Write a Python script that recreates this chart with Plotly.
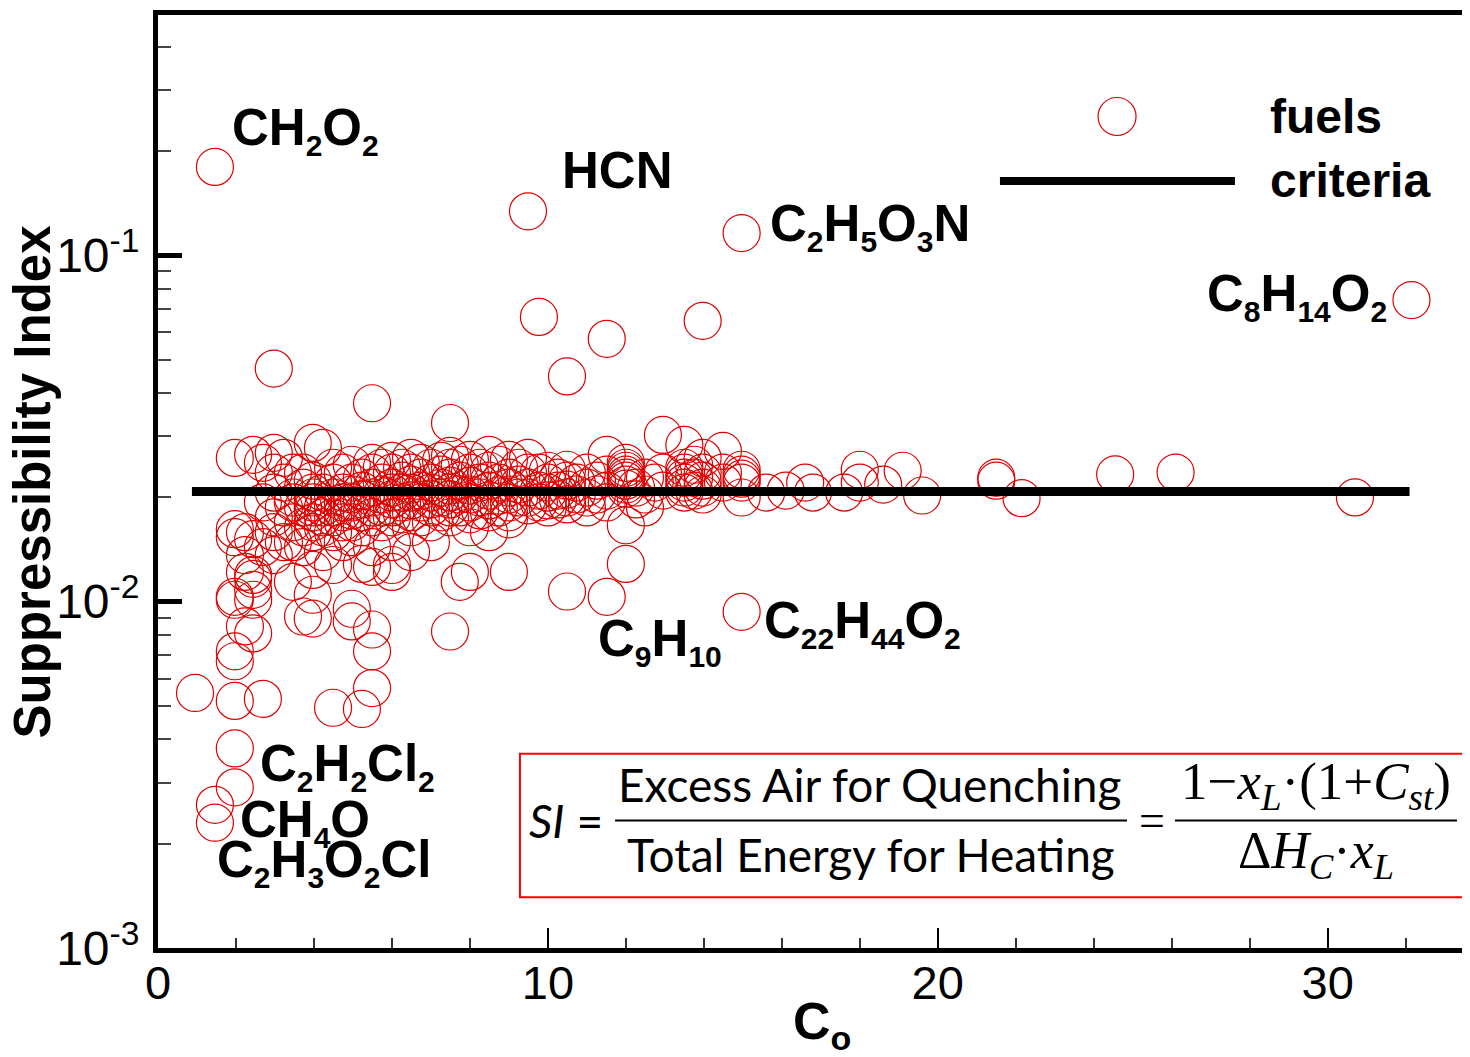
import math
import plotly.graph_objects as go

# ---------------- data ----------------
co_levels = [0.95, 1.46, 1.97, 2.23, 2.44, 2.69, 2.97, 3.23, 3.46, 3.72, 3.97, 4.23, 4.49, 4.74,
             4.97, 5.23, 5.49, 5.74, 6.0, 6.26, 6.49, 6.74, 7.0, 7.26, 7.49, 7.74, 8.0, 8.26,
             8.49, 8.74, 9.0, 9.26, 9.49, 9.77, 10.0, 10.26, 10.49, 10.74, 11.0, 11.26, 11.51,
             12.0, 12.26, 12.49, 12.74, 12.95, 13.5, 13.75, 13.97, 14.49, 14.97, 15.6, 16.1,
             16.6, 16.8, 17.6, 18.0, 18.6, 19.1, 19.6, 21.5, 22.15, 24.55, 26.1, 30.7, 32.15]

si_by_level = [
    [0.00545],
    [0.180, 0.00259, 0.00230],
    [0.0260, 0.01535, 0.01619, 0.01033, 0.01013, 0.00673, 0.00719, 0.00517, 0.00377, 0.00291],
    [0.00848, 0.01219, 0.01363, 0.01587],
    [0.02655, 0.01515, 0.01164, 0.01082, 0.00810, 0.01013, 0.01195],
    [0.00524, 0.02518, 0.01934, 0.01437],
    [0.0471, 0.0269, 0.02357, 0.02066, 0.01752, 0.01363, 0.01587],
    [0.02603, 0.02207, 0.01871, 0.01485],
    [0.01141, 0.02357, 0.01999, 0.01695, 0.01485, 0.01934],
    [0.00906, 0.02357, 0.02136, 0.01871, 0.01640, 0.01437],
    [0.02873, 0.01047, 0.00894, 0.01235, 0.02236, 0.02066, 0.01934, 0.01811, 0.01695, 0.01587, 0.01871, 0.01999],
    [0.02780, 0.02066, 0.01871, 0.01752, 0.01640, 0.01391],
    [0.00494, 0.02436, 0.02207, 0.01999, 0.01871, 0.01752, 0.01587, 0.01276],
    [0.02357, 0.02066, 0.01934, 0.01811, 0.01695, 0.01485],
    [0.00954, 0.00877, 0.02485, 0.02207, 0.02039, 0.01934, 0.01835, 0.01695, 0.01535],
    [0.00490, 0.02281, 0.02093, 0.01973, 0.01811, 0.01640, 0.01285],
    [0.0374, 0.00831, 0.00719, 0.00563, 0.02518, 0.02357, 0.02136, 0.01999, 0.01871, 0.01752, 0.01437, 0.01260],
    [0.02436, 0.02207, 0.02039, 0.01871, 0.01695],
    [0.02551, 0.02357, 0.02136, 0.02066, 0.01973, 0.01871, 0.01752, 0.01485, 0.01276, 0.01219],
    [0.02436, 0.02236, 0.02066, 0.01934, 0.01787],
    [0.02603, 0.02357, 0.02178, 0.02066, 0.01960, 0.01811, 0.01640, 0.01391],
    [0.02518, 0.02281, 0.02093, 0.01934, 0.01752],
    [0.02436, 0.02207, 0.02066, 0.01973, 0.01871, 0.01695, 0.01485],
    [0.02551, 0.02326, 0.02136, 0.01999, 0.01811],
    [0.0328, 0.02637, 0.02436, 0.02281, 0.02164, 0.02066, 0.01973, 0.01871, 0.01752, 0.00820],
    [0.02485, 0.02236, 0.02039, 0.01871, 0.01141],
    [0.02568, 0.02357, 0.02164, 0.02039, 0.01934, 0.01787, 0.01219, 0.01640],
    [0.02436, 0.02207, 0.01999, 0.01835],
    [0.02655, 0.02388, 0.02236, 0.02093, 0.01960, 0.01811, 0.01587],
    [0.02485, 0.02207, 0.02026, 0.01871],
    [0.02568, 0.02281, 0.02136, 0.02039, 0.01934, 0.01811, 0.01729, 0.01219],
    [0.02436, 0.02178, 0.01999],
    [0.134, 0.02603, 0.02357, 0.02136, 0.01999, 0.01896],
    [0.0664, 0.02357, 0.02093, 0.01934],
    [0.02388, 0.02207, 0.02066, 0.01960, 0.01871],
    [0.02281, 0.02093, 0.01973],
    [0.0447, 0.02404, 0.02236, 0.02107, 0.01999, 0.01909, 0.0107],
    [0.02207, 0.02039],
    [0.02357, 0.02136, 0.01999, 0.01871],
    [0.02236, 0.02039],
    [0.0574, 0.02655, 0.02326, 0.02093, 0.01934, 0.01033],
    [0.02518, 0.02436, 0.02388, 0.02326, 0.02281, 0.02236, 0.02178, 0.02121, 0.01662, 0.01285],
    [0.02136, 0.01973],
    [0.02281, 0.02039, 0.01871],
    [0.02207],
    [0.0303, 0.02357, 0.02093],
    [0.02835, 0.02436, 0.02357, 0.02281, 0.02207, 0.02136, 0.02066],
    [0.02485, 0.02281, 0.02093],
    [0.0647, 0.02603, 0.02357, 0.02236, 0.02136, 0.02039],
    [0.02725, 0.02357, 0.02207],
    [0.116, 0.02404, 0.02326, 0.02266, 0.02207, 0.01999, 0.00935],
    [0.02066],
    [0.02093],
    [0.02207],
    [0.02066],
    [0.02066],
    [0.02404, 0.02207],
    [0.02178],
    [0.02388],
    [0.02026],
    [0.02281, 0.02236],
    [0.0199],
    [0.0233],
    [0.0236],
    [0.0200],
    [0.0743],
]

criteria_co = [0.87, 32.1]
criteria_si = [0.0208, 0.0208]

y_tick_vals = [0.001, 0.01, 0.1]
y_tick_text = ["10<sup>-3</sup>", "10<sup>-2</sup>", "10<sup>-1</sup>"]
y_minor_vals = [0.002, 0.003, 0.004, 0.005, 0.006, 0.007, 0.008, 0.009,
                0.02, 0.03, 0.04, 0.05, 0.06, 0.07, 0.08, 0.09,
                0.2, 0.3, 0.4]
x_tick_vals = [0, 10, 20, 30]
x_tick_text = ["0", "10", "20", "30"]
x_minor_vals = [2, 4, 6, 8, 12, 14, 16, 18, 22, 24, 26, 28, 32]

# fuel labels: (element, subscript) parts, anchor co (left edge), anchor si (vertical centre)
fuel_parts = [
    [("CH", "2"), ("O", "2")],
    [("HCN", "")],
    [("C", "2"), ("H", "5"), ("O", "3"), ("N", "")],
    [("C", "8"), ("H", "14"), ("O", "2")],
    [("C", "9"), ("H", "10")],
    [("C", "22"), ("H", "44"), ("O", "2")],
    [("C", "2"), ("H", "2"), ("Cl", "2")],
    [("CH", "4"), ("O", "")],
    [("C", "2"), ("H", "3"), ("O", "2"), ("Cl", "")],
]
label_co = [1.85, 10.31, 15.64, 26.85, 11.23, 15.49, 2.56, 2.05, 1.46]
label_si = [0.2296, 0.176, 0.121, 0.0763, 0.00768, 0.00865, 0.003345, 0.00231, 0.001763]


def formula(parts):
    out = ""
    for el, sub in parts:
        out += el
        if sub:
            out += '<sub><span style="font-size:30px">' + sub + "</span></sub>"
    return "<b>" + out + "</b>"


# ---------------- figure ----------------
RED = "#e00000"
co_vals, si_vals = [], []
for c, ys in zip(co_levels, si_by_level):
    for s in ys:
        co_vals.append(c)
        si_vals.append(s)

fig = go.Figure()
fig.add_trace(go.Scatter(
    x=co_vals, y=si_vals, mode="markers", name="fuels",
    marker=dict(symbol="circle-open", size=37, color=RED, line=dict(width=1.2, color=RED)),
    showlegend=False))
fig.add_trace(go.Scatter(
    x=criteria_co, y=criteria_si, mode="lines", name="criteria",
    line=dict(color="black", width=9), showlegend=False))

BOLD = "Liberation Sans, Arial, sans-serif"
for parts, cx, cy in zip(fuel_parts, label_co, label_si):
    fig.add_annotation(x=cx, y=math.log10(cy), xref="x", yref="y", text=formula(parts),
                       showarrow=False, xanchor="left", yanchor="middle",
                       font=dict(family=BOLD, size=51, color="black"))

# axis titles
fig.add_annotation(x=0.507, y=-0.0822, xref="paper", yref="paper",
                   text='<b>C<sub><span style="font-size:34px">o</span></sub></b>', showarrow=False,
                   xanchor="center", yanchor="middle",
                   font=dict(family=BOLD, size=52, color="black"))
fig.add_annotation(x=-0.0955, y=0.5, xref="paper", yref="paper",
                   text="<b>Suppressibility Index</b>", showarrow=False, textangle=-90,
                   xanchor="center", yanchor="middle",
                   font=dict(family=BOLD, size=51, color="black"))

# legend (drawn manually)
fig.add_shape(type="circle", xref="paper", yref="paper", xsizemode="pixel", ysizemode="pixel",
              xanchor=0.7321, yanchor=0.8912, x0=-19, x1=19, y0=-19, y1=19,
              line=dict(color=RED, width=1.2))
fig.add_shape(type="line", xref="paper", yref="paper", x0=0.6427, x1=0.8221, y0=0.8222, y1=0.8222,
              line=dict(color="black", width=8))
fig.add_annotation(x=0.8475, y=0.8912, xref="paper", yref="paper", text="<b>fuels</b>",
                   showarrow=False, xanchor="left", yanchor="middle",
                   font=dict(family=BOLD, size=48, color="black"))
fig.add_annotation(x=0.8475, y=0.8222, xref="paper", yref="paper", text="<b>criteria</b>",
                   showarrow=False, xanchor="left", yanchor="middle",
                   font=dict(family=BOLD, size=48, color="black"))

# formula box
fig.add_shape(type="rect", xref="paper", yref="paper", x0=0.2763, x1=0.9985, y0=0.0544, y1=0.2081,
              line=dict(color="red", width=2))
SANS = "Lato, Open Sans, sans-serif"
SERIF = "Liberation Serif, Times New Roman, serif"
fig.add_annotation(x=0.3115, y=0.1366, xref="paper", yref="paper", text="<i>SI</i> =",
                   showarrow=False, xanchor="center", yanchor="middle",
                   font=dict(family=SANS, size=46, color="black"))
fig.add_annotation(x=0.5435, y=0.1750, xref="paper", yref="paper", text="Excess Air for Quenching",
                   showarrow=False, xanchor="center", yanchor="middle",
                   font=dict(family=SANS, size=46, color="black"))
fig.add_annotation(x=0.5443, y=0.1003, xref="paper", yref="paper", text="Total Energy for Heating",
                   showarrow=False, xanchor="center", yanchor="middle",
                   font=dict(family=SANS, size=46, color="black"))
fig.add_shape(type="line", xref="paper", yref="paper", x0=0.3489, x1=0.7397, y0=0.1366, y1=0.1366,
              line=dict(color="black", width=2))
fig.add_annotation(x=0.7588, y=0.1366, xref="paper", yref="paper", text="=",
                   showarrow=False, xanchor="center", yanchor="middle",
                   font=dict(family=SERIF, size=46, color="black"))
fig.add_annotation(x=0.884, y=0.1750, xref="paper", yref="paper",
                   text="1\u2212<i>x</i><sub><i>L</i></sub>\u00b7(1+<i>C</i><sub><i>st</i></sub>)",
                   showarrow=False, xanchor="center", yanchor="middle",
                   font=dict(family=SERIF, size=53, color="black"))
fig.add_annotation(x=0.884, y=0.1003, xref="paper", yref="paper",
                   text="\u0394<i>H</i><sub><i>C</i></sub>\u00b7<i>x</i><sub><i>L</i></sub>",
                   showarrow=False, xanchor="center", yanchor="middle",
                   font=dict(family=SERIF, size=52, color="black"))
fig.add_shape(type="line", xref="paper", yref="paper", x0=0.7763, x1=0.9916, y0=0.1366, y1=0.1366,
              line=dict(color="black", width=2))

fig.update_xaxes(
    range=[0, 33.6], showgrid=False, zeroline=False,
    showline=True, linecolor="black", linewidth=5, mirror=True,
    tickmode="array", tickvals=x_tick_vals, ticktext=x_tick_text,
    ticks="inside", ticklen=20, tickwidth=2, tickcolor="black",
    ticklabelstandoff=-10,
    tickfont=dict(family="Liberation Sans, Arial, sans-serif", size=47, color="black"),
    minor=dict(ticks="inside", ticklen=10, tickwidth=1.5, tickcolor="#333", tickvals=x_minor_vals),
)
fig.update_yaxes(
    type="log", range=[-3, -0.306], showgrid=False, zeroline=False,
    showline=True, linecolor="black", linewidth=5, mirror=True,
    tickmode="array", tickvals=y_tick_vals, ticktext=y_tick_text,
    ticks="inside", ticklen=24, tickwidth=5, tickcolor="black",
    ticklabelstandoff=4,
    tickfont=dict(family="Liberation Sans, Arial, sans-serif", size=48, color="black"),
    minor=dict(ticks="inside", ticklen=13, tickwidth=2, tickcolor="#444", tickvals=y_minor_vals),
)
fig.update_layout(
    width=1470, height=1057,
    margin=dict(l=150, r=10, t=2, b=117),
    paper_bgcolor="white", plot_bgcolor="white",
    showlegend=False,
)
fig.write_html("out.html")
